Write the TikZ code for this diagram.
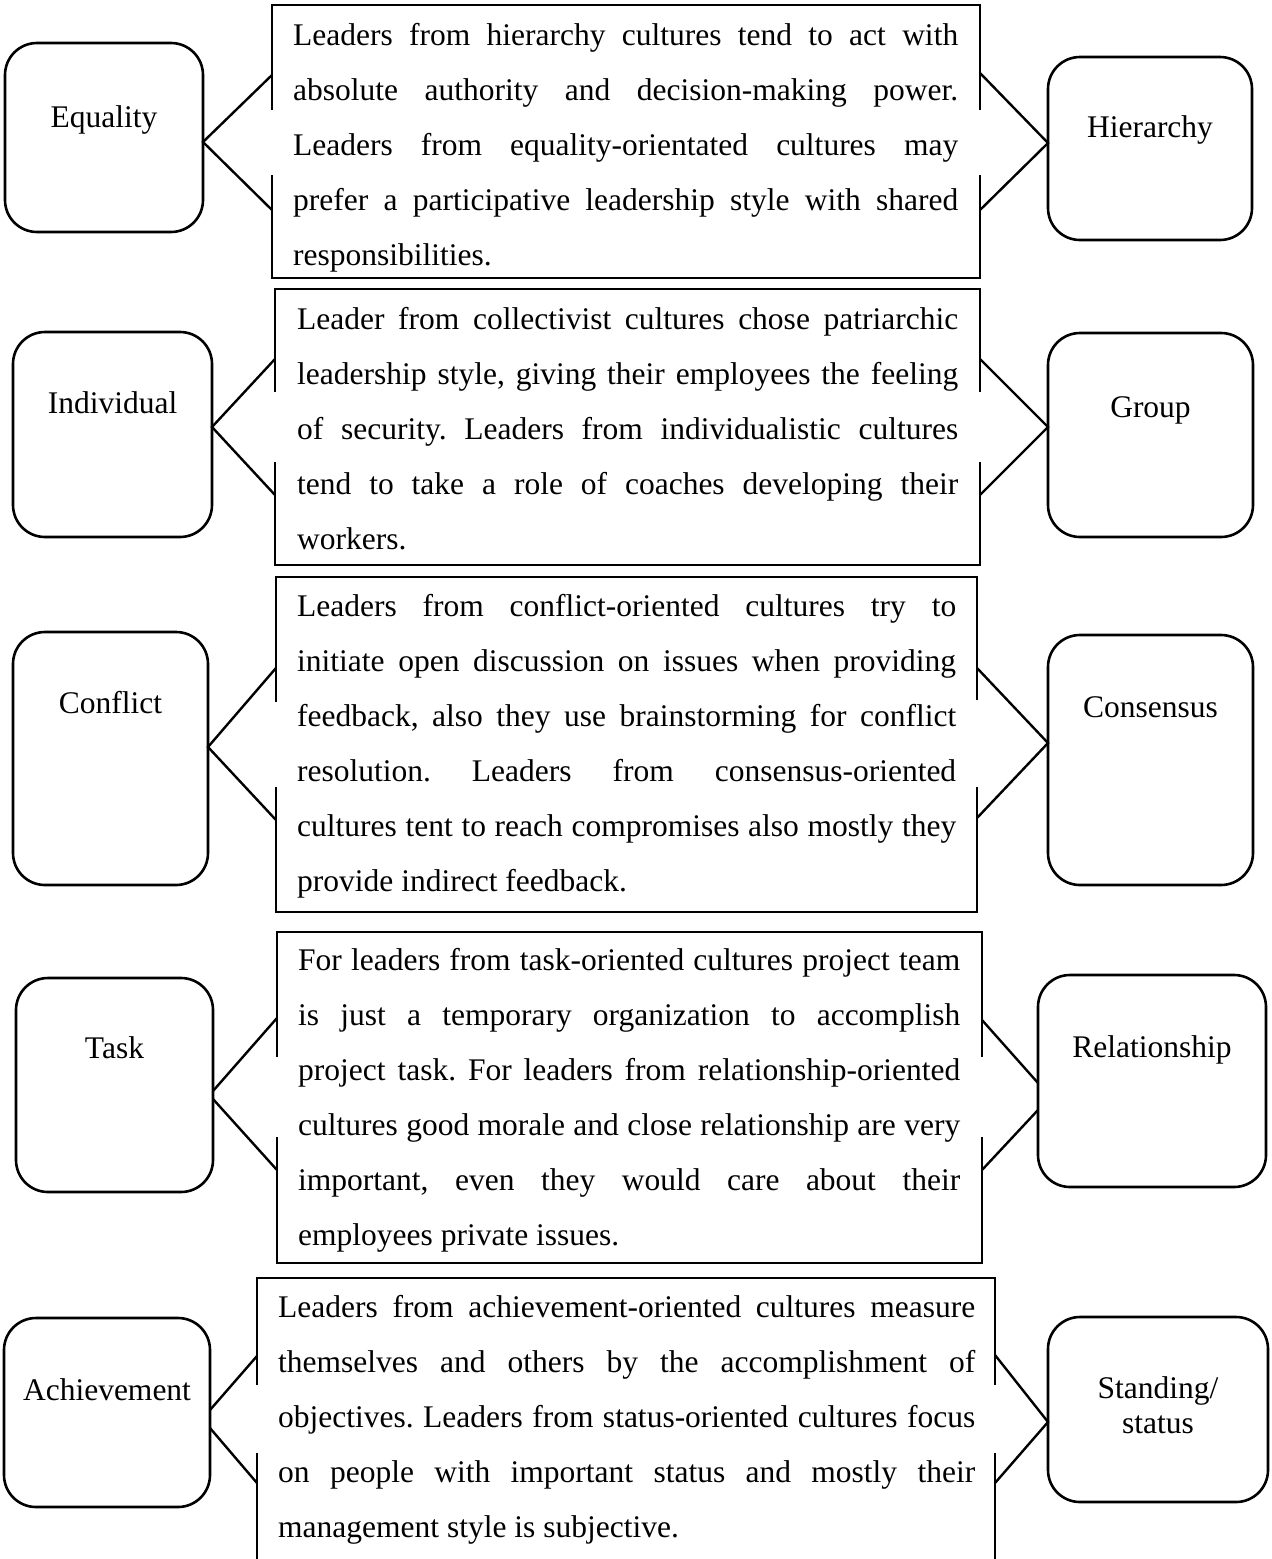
\documentclass[tikz,border=0pt]{standalone}
\usepackage{fontspec}
\setmainfont{Liberation Serif}
\frenchspacing
% one justified line of a paragraph, spread to the full width
\newcommand\jline[1]{\makebox[\linewidth][s]{#1}\\}
\begin{document}
\begin{tikzpicture}[x=1pt,y=-1pt,
  side/.style={draw, line width=2.6pt, rounded corners=32pt, inner sep=0pt, outer sep=0pt},
  lbl/.style={inner sep=0pt, anchor=base, font=\fontsize{31.5}{35}\selectfont},
  para/.style={inner sep=0pt, anchor=base west, font=\fontsize{31.5}{55}\selectfont},
  frame/.style={line width=2.8pt},
  conn/.style={line width=2.4pt, line join=miter},
]
\useasboundingbox (0,0) rectangle (1272,1559);
\fill[white] (0,0) rectangle (1272,1559);

% ---------------- Equality / Hierarchy ----------------
\node[side, minimum width=198pt, minimum height=189pt] (eq) at (104,137.5) {};
\node[lbl] (eqT) at ([yshift=-84pt]eq.north) {Equality};
\node[side, minimum width=204pt, minimum height=183pt] (hi) at (1150,148.5) {};
\node[lbl] (hiT) at ([yshift=-80pt]hi.north) {Hierarchy};
\draw[frame] (272,110) -- (272,5) -- (980,5) -- (980,110);
\draw[frame] (272,175) -- (272,278) -- (980,278) -- (980,175);
\coordinate (r1lu) at (272,75);  \coordinate (r1ld) at (272,210);
\coordinate (r1ru) at (980,73);  \coordinate (r1rd) at (980,210);
\draw[conn] (r1lu) -- ([yshift=-4.5pt]eq.east) -- (r1ld);
\draw[conn] (r1ru) -- ([yshift=5.5pt]hi.west) -- (r1rd);
\node[para] (p1) at (293,45) {\parbox[t]{665pt}{%
\jline{Leaders from hierarchy cultures tend to act with}
\jline{absolute authority and decision-making power.}
\jline{Leaders from equality-orientated cultures may}
\jline{prefer a participative leadership style with shared}
responsibilities.}};

% ---------------- Individual / Group ----------------
\node[side, minimum width=199pt, minimum height=205pt] (ind) at (112.5,434.5) {};
\node[lbl] (indT) at ([yshift=-81pt]ind.north) {Individual};
\node[side, minimum width=205pt, minimum height=204pt] (grp) at (1150.5,435) {};
\node[lbl] (grpT) at ([yshift=-84pt]grp.north) {Group};
\draw[frame] (275,392) -- (275,289) -- (980,289) -- (980,392);
\draw[frame] (275,462) -- (275,565) -- (980,565) -- (980,462);
\coordinate (r2lu) at (275,359);  \coordinate (r2ld) at (275,495);
\coordinate (r2ru) at (980,359);  \coordinate (r2rd) at (980,495);
\draw[conn] (r2lu) -- ([yshift=7.5pt]ind.east) -- (r2ld);
\draw[conn] (r2ru) -- ([yshift=8pt]grp.west) -- (r2rd);
\node[para] (p2) at (297,329) {\parbox[t]{661pt}{%
\jline{Leader from collectivist cultures chose patriarchic}
\jline{leadership style, giving their employees the feeling}
\jline{of security. Leaders from individualistic cultures}
\jline{tend to take a role of coaches developing their}
workers.}};

% ---------------- Conflict / Consensus ----------------
\node[side, minimum width=195pt, minimum height=253pt] (con) at (110.5,758.5) {};
\node[lbl] (conT) at ([yshift=-81pt]con.north) {Conflict};
\node[side, minimum width=205pt, minimum height=250pt] (cns) at (1150.5,760) {};
\node[lbl] (cnsT) at ([yshift=-82pt]cns.north) {Consensus};
\draw[frame] (276,702) -- (276,577) -- (977,577) -- (977,700);
\draw[frame] (276,787) -- (276,912) -- (977,912) -- (977,787);
\coordinate (r3lu) at (276,668);  \coordinate (r3ld) at (276,820);
\coordinate (r3ru) at (977,668);  \coordinate (r3rd) at (977,818);
\draw[conn] (r3lu) -- ([yshift=11.5pt]con.east) -- (r3ld);
\draw[conn] (r3ru) -- ([yshift=17pt]cns.west) -- (r3rd);
\node[para] (p3) at (297,616) {\parbox[t]{659pt}{%
\jline{Leaders from conflict-oriented cultures try to}
\jline{initiate open discussion on issues when providing}
\jline{feedback, also they use brainstorming for conflict}
\jline{resolution. Leaders from consensus-oriented}
\jline{cultures tent to reach compromises also mostly they}
provide indirect feedback.}};

% ---------------- Task / Relationship ----------------
\node[side, minimum width=197pt, minimum height=214pt] (task) at (114.5,1085) {};
\node[lbl] (taskT) at ([yshift=-80pt]task.north) {Task};
\node[side, minimum width=228pt, minimum height=212pt] (rel) at (1152,1081) {};
\node[lbl] (relT) at ([yshift=-82pt]rel.north) {Relationship};
\draw[frame] (277,1057) -- (277,932) -- (982,932) -- (982,1057);
\draw[frame] (277,1137) -- (277,1263) -- (982,1263) -- (982,1137);
\coordinate (r4lu) at (277,1018);  \coordinate (r4ld) at (277,1170);
\coordinate (r4ru) at (982,1020);  \coordinate (r4rd) at (982,1170);
\draw[conn] (r4lu) -- ([yshift=-6pt]task.east);
\draw[conn] ([yshift=-14pt]task.east) -- (r4ld);
\draw[conn] (r4ru) -- ([yshift=-2pt]rel.west);
\draw[conn] ([yshift=-29pt]rel.west) -- (r4rd);
\node[para] (p4) at (298,970) {\parbox[t]{662pt}{%
\jline{For leaders from task-oriented cultures project team}
\jline{is just a temporary organization to accomplish}
\jline{project task. For leaders from relationship-oriented}
\jline{cultures good morale and close relationship are very}
\jline{important, even they would care about their}
employees private issues.}};

% ---------------- Achievement / Standing ----------------
\node[side, minimum width=206pt, minimum height=189pt] (ach) at (107,1412.5) {};
\node[lbl] (achT) at ([yshift=-82pt]ach.north) {Achievement};
\node[side, minimum width=220pt, minimum height=185pt] (sta) at (1158,1409.5) {};
\node[lbl] (staT) at ([yshift=-81pt]sta.north) {\begin{tabular}[t]{@{}c@{}}Standing/\\status\end{tabular}};
\draw[frame] (257,1385) -- (257,1278) -- (995,1278) -- (995,1385);
\draw[frame] (257,1453) -- (257,1559);
\draw[frame] (995,1453) -- (995,1559);
\coordinate (r5lu) at (257,1356);  \coordinate (r5ld) at (257,1483);
\coordinate (r5ru) at (995,1355);  \coordinate (r5rd) at (995,1483);
\draw[conn] (r5lu) -- ([yshift=2.5pt]ach.east);
\draw[conn] ([yshift=-15.5pt]ach.east) -- (r5ld);
\draw[conn] (r5ru) -- ([yshift=-12.5pt]sta.west) -- (r5rd);
\node[para] (p5) at (278,1317) {\parbox[t]{697pt}{%
\jline{Leaders from achievement-oriented cultures measure}
\jline{themselves and others by the accomplishment of}
\jline{objectives. Leaders from status-oriented cultures focus}
\jline{on people with important status and mostly their}
management style is subjective.}};
\end{tikzpicture}
\end{document}
